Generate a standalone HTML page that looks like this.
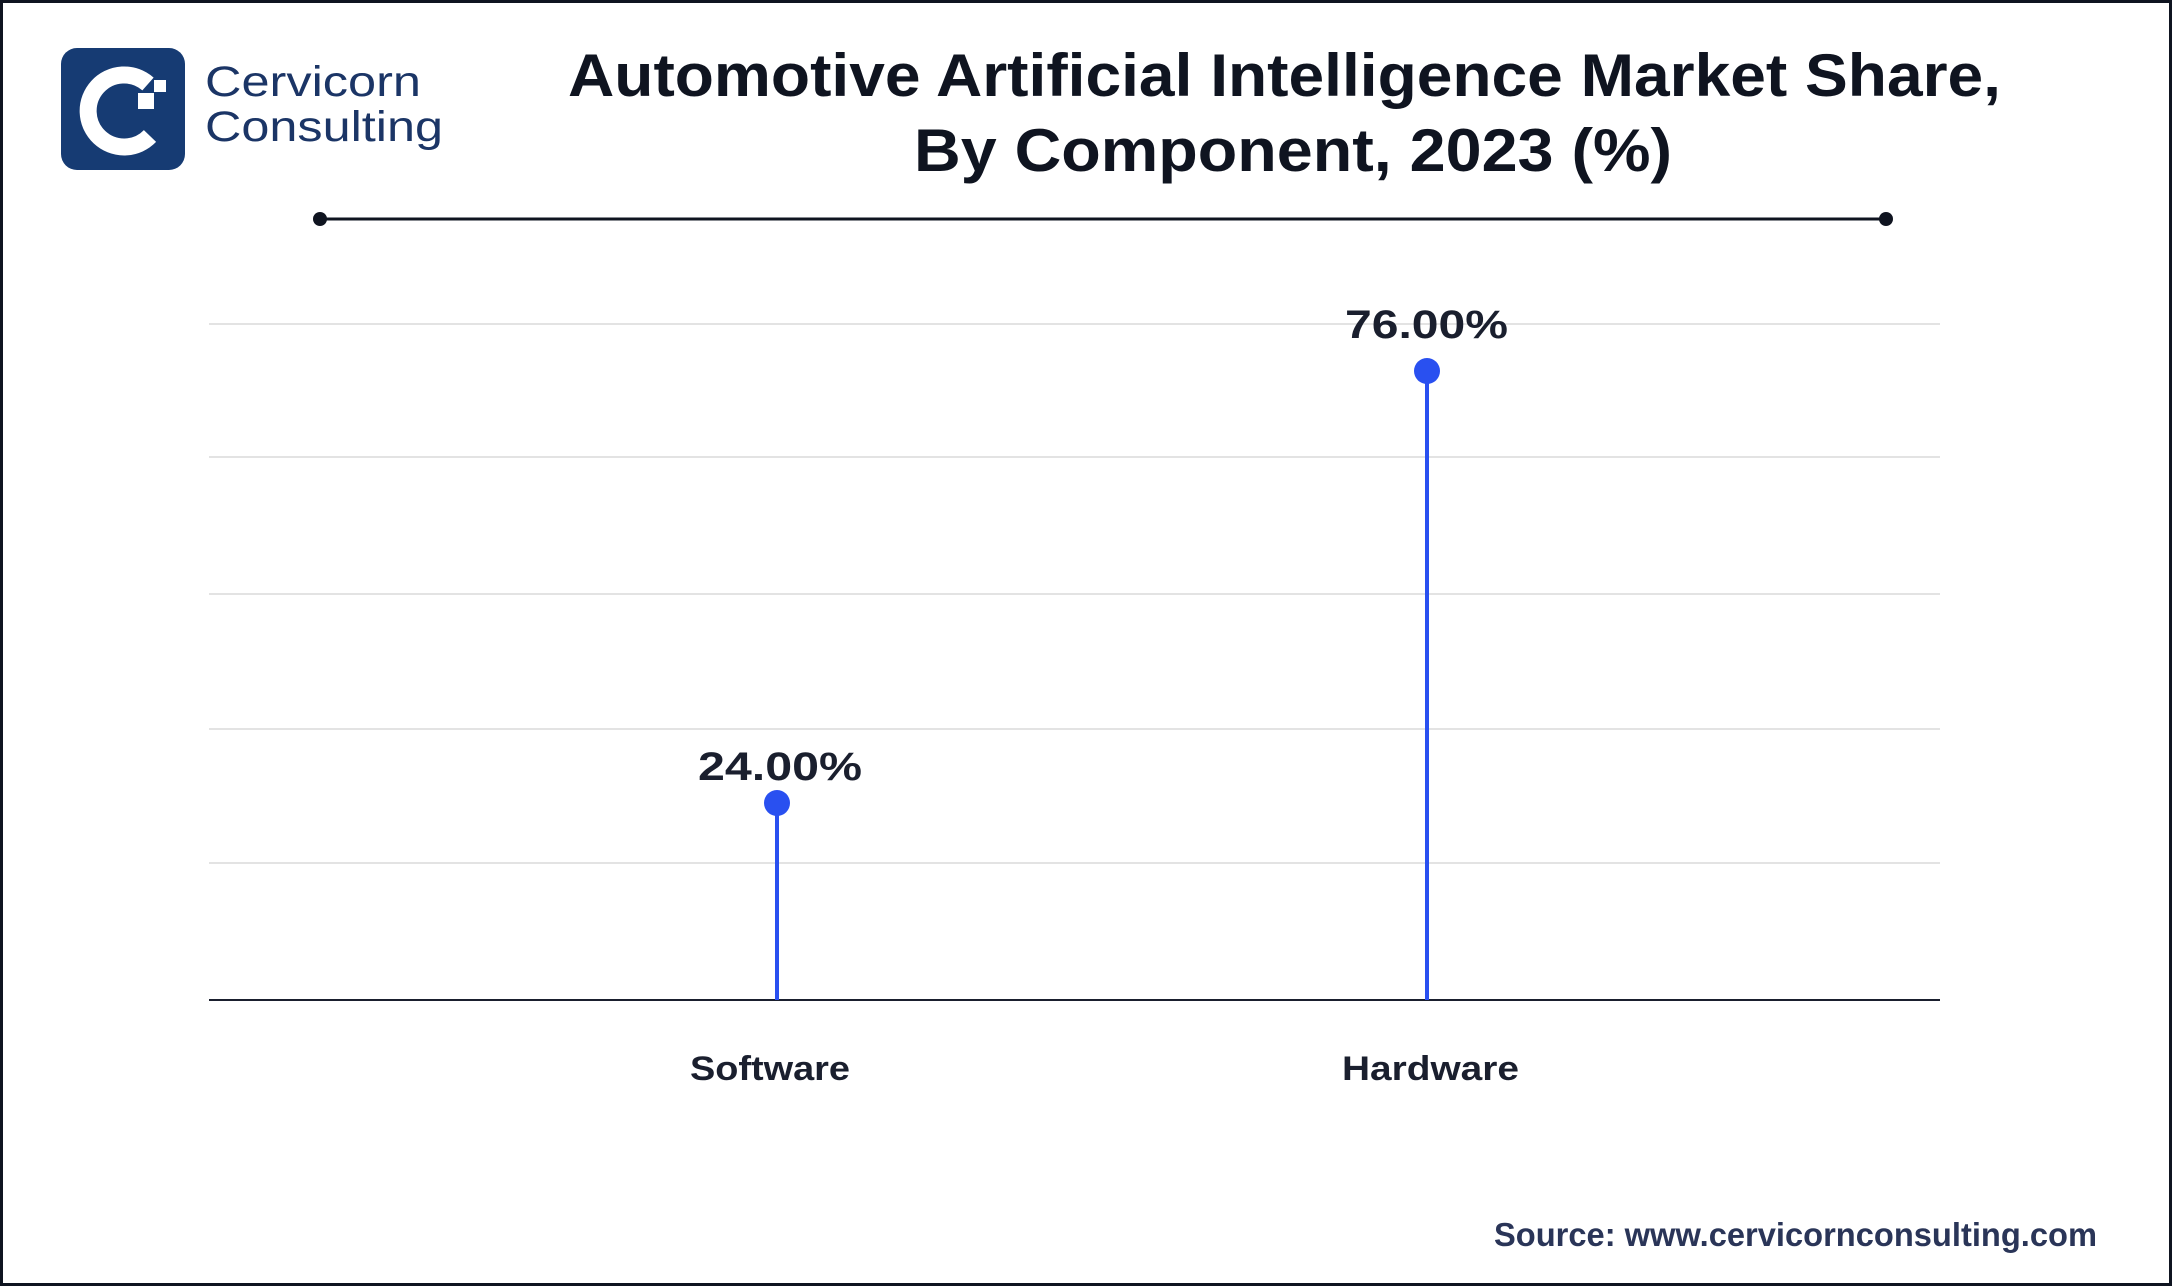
<!DOCTYPE html>
<html><head><meta charset="utf-8"><style>
html,body{margin:0;padding:0;background:#fff;}
svg{display:block;}
</style></head><body>
<svg width="2172" height="1286" viewBox="0 0 2172 1286" xmlns="http://www.w3.org/2000/svg" font-family="Liberation Sans, sans-serif">
<rect x="1.5" y="1.5" width="2169" height="1283" fill="#fff" stroke="#0f1420" stroke-width="3"/>
<!-- logo -->
<rect x="61" y="48" width="124" height="122" rx="16" fill="#163b73"/>
<path d="M148 84 A36 36 0 1 0 150 136" fill="none" stroke="#fff" stroke-width="17"/>
<rect x="138" y="93" width="16" height="16" fill="#fff"/>
<rect x="154" y="80" width="12" height="12" fill="#fff"/>
<text x="205" y="96" font-size="43" fill="#1b3566" textLength="216" lengthAdjust="spacingAndGlyphs">Cervicorn</text>
<text x="205" y="141" font-size="43" fill="#1b3566" textLength="238" lengthAdjust="spacingAndGlyphs">Consulting</text>
<!-- title -->
<text x="568" y="96" font-size="60" font-weight="bold" fill="#0f1420" textLength="1433" lengthAdjust="spacingAndGlyphs">Automotive Artificial Intelligence Market Share,</text>
<text x="914" y="171" font-size="60" font-weight="bold" fill="#0f1420" textLength="758" lengthAdjust="spacingAndGlyphs">By Component, 2023 (%)</text>
<line x1="320" y1="219" x2="1886" y2="219" stroke="#0f1420" stroke-width="3"/>
<circle cx="320" cy="219" r="7" fill="#0f1420"/>
<circle cx="1886" cy="219" r="7" fill="#0f1420"/>
<!-- grid -->
<g stroke="#e3e3e3" stroke-width="2">
<line x1="209" y1="324" x2="1940" y2="324"/>
<line x1="209" y1="457" x2="1940" y2="457"/>
<line x1="209" y1="594" x2="1940" y2="594"/>
<line x1="209" y1="729" x2="1940" y2="729"/>
<line x1="209" y1="863" x2="1940" y2="863"/>
</g>
<line x1="209" y1="1000" x2="1940" y2="1000" stroke="#1a1f2e" stroke-width="2"/>
<!-- stems -->
<line x1="777" y1="803" x2="777" y2="1000" stroke="#2950f0" stroke-width="4"/>
<circle cx="777" cy="803" r="13" fill="#2950f0"/>
<line x1="1427" y1="371" x2="1427" y2="1000" stroke="#2950f0" stroke-width="4"/>
<circle cx="1427" cy="371" r="13" fill="#2950f0"/>
<text x="698" y="780" font-size="40" font-weight="bold" fill="#1a1f2e" textLength="164" lengthAdjust="spacingAndGlyphs">24.00%</text>
<text x="1345" y="338" font-size="40" font-weight="bold" fill="#1a1f2e" textLength="163" lengthAdjust="spacingAndGlyphs">76.00%</text>
<text x="690" y="1080" font-size="34" font-weight="bold" fill="#1a1f2e" textLength="160" lengthAdjust="spacingAndGlyphs">Software</text>
<text x="1342" y="1080" font-size="34" font-weight="bold" fill="#1a1f2e" textLength="177" lengthAdjust="spacingAndGlyphs">Hardware</text>
<text x="1494" y="1246" font-size="33" font-weight="bold" fill="#2a3558" textLength="603" lengthAdjust="spacingAndGlyphs">Source: www.cervicornconsulting.com</text>
</svg>
</body></html>
